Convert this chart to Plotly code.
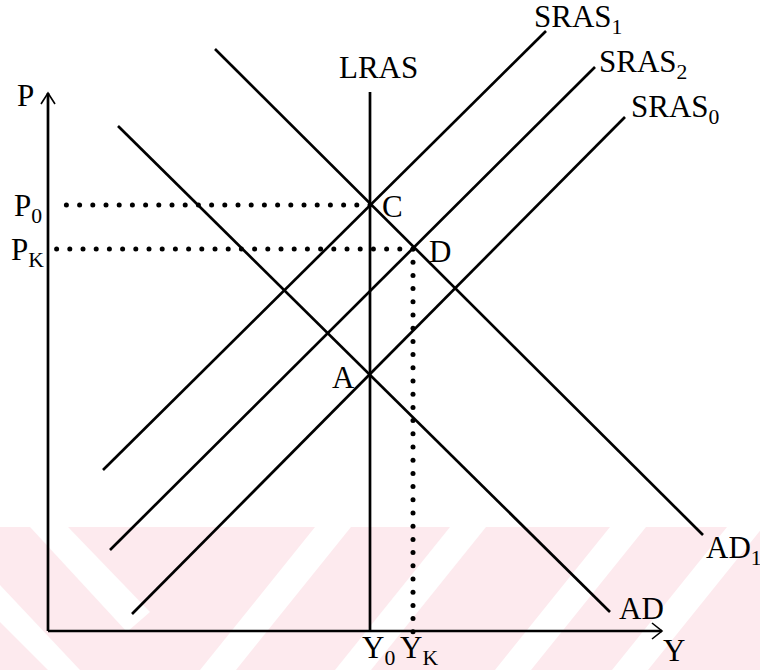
import numpy as np
import plotly.graph_objects as go

# ---- data (diagram units: origin at the axes corner, y upward) ----
curve_names = ["SRAS<sub>1</sub>", "SRAS<sub>2</sub>", "SRAS<sub>0</sub>", "AD", "AD<sub>1</sub>"]
curve_x0 = [55, 62, 84, 70, 167]
curve_y0 = [161, 81, 17, 505, 582]
curve_x1 = [498, 547, 577, 562, 655]
curve_y1 = [600, 564, 514, 19, 96]

lras_x = 322
lras_top = 539

point_names = ["A", "C", "D"]
point_x = [322, 322, 365]
point_y = [256, 426, 382]

price_labels = ["P<sub>0</sub>", "P<sub>K</sub>"]
price_values = [426, 382]
output_labels = ["Y<sub>0</sub>", "Y<sub>K</sub>"]
output_values = [322, 365]

axis_y_top = 538
axis_x_right = 614

# ---- helpers (pixel -> diagram coordinates) ----
OX, OY = 48, 631
W, H = 760, 670


def dx(px):
    return px - OX


def dy(py):
    return OY - py


FONT = dict(family="Liberation Serif, Times New Roman, serif", size=31, color="black")
LW = 2.7

fig = go.Figure()


def seg(xs, ys, width=LW, dash=None):
    fig.add_trace(go.Scatter(x=xs, y=ys, mode="lines",
                             line=dict(color="black", width=width, dash=dash),
                             hoverinfo="skip", showlegend=False))


# axes with arrowheads
seg([0, 0], [0, axis_y_top])
seg([0, axis_x_right], [0, 0])
seg([-7, 0, 7], [axis_y_top - 11, axis_y_top, axis_y_top - 11], width=1.6)
seg([axis_x_right - 10, axis_x_right, axis_x_right - 10], [8, 0, -8], width=1.6)

# LRAS
seg([lras_x, lras_x], [0, lras_top])

# SRAS and AD curves
for i in range(len(curve_names)):
    seg([curve_x0[i], curve_x1[i]], [curve_y0[i], curve_y1[i]])

# dotted guides (round dots)
STEP = 13.2
C = (point_x[1], point_y[1])
D = (point_x[2], point_y[2])
gx, gy = [], []
xs = np.arange(C[0], 8, -STEP)
gx += list(xs); gy += [price_values[0]] * len(xs)
xs = np.arange(D[0], 5, -STEP)
gx += list(xs); gy += [price_values[1]] * len(xs)
ys = np.arange(D[1], -1, -STEP)
gx += [output_values[1]] * len(ys); gy += list(ys)
fig.add_trace(go.Scatter(x=gx, y=gy, mode="markers",
                         marker=dict(color="black", size=5, line=dict(width=0)),
                         hoverinfo="skip", showlegend=False))

annotations = []


def ann(text, px, py, xanchor="center"):
    annotations.append(dict(x=dx(px), y=dy(py), xref="x", yref="y", text=text,
                            showarrow=False, font=FONT, xanchor=xanchor,
                            yanchor="middle"))


# curve labels
ann("LRAS", 378, 67)
ann(curve_names[0], 532, 19, "left")
ann(curve_names[1], 597, 64, "left")
ann(curve_names[2], 629, 109, "left")
ann(curve_names[3], 617, 608, "left")
ann(curve_names[4], 704, 550, "left")
# points
ann(point_names[0], 357, 377, "right")
ann(point_names[1], 380, 206, "left")
ann(point_names[2], 427, 251, "left")
# axis labels
ann("P", 25, 95)
ann("Y", 674, 650)
ann(price_labels[0], 44, 208, "right")
ann(price_labels[1], 46, 252, "right")
ann(output_labels[0], 360, 650, "left")
ann(output_labels[1], 398, 650, "left")

# faint watermark band (decoration)
PINK = "#fdeaee"


def pxp(x):
    return x / W


def pyp(y):
    return 1 - y / H


def poly(points, color):
    path = "M " + " L ".join(f"{pxp(x):.4f},{pyp(y):.4f}" for x, y in points) + " Z"
    return dict(type="path", path=path, xref="paper", yref="paper",
                fillcolor=color, line=dict(width=0), layer="below")


shapes = [dict(type="rect", xref="paper", yref="paper", x0=0, x1=1,
               y0=0, y1=pyp(527), fillcolor=PINK, line=dict(width=0), layer="below")]
# "\" stripes
shapes.append(poly([(30, 527), (68, 527), (150, 612), (127, 632)], "white"))
shapes.append(poly([(0, 585), (0, 622), (48, 670), (80, 670)], "white"))
# "/" stripes
for b in [200, 335, 495, 612]:
    shapes.append(poly([(b, 670), (b + 36, 670), (b + 151, 527), (b + 115, 527)], "white"))

fig.update_layout(
    width=W, height=H, autosize=False,
    margin=dict(l=0, r=0, t=0, b=0),
    paper_bgcolor="white", plot_bgcolor="white",
    xaxis=dict(range=[dx(0), dx(W)], visible=False, fixedrange=True),
    yaxis=dict(range=[dy(H), dy(0)], visible=False, fixedrange=True),
    annotations=annotations, shapes=shapes, showlegend=False,
)

fig.write_html("out.html", config={"displayModeBar": False},
               post_script="document.body.style.margin='0';document.body.style.overflow='hidden';")
